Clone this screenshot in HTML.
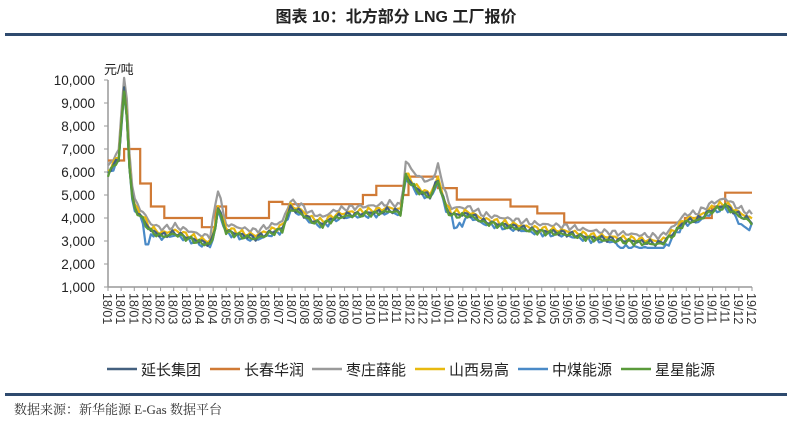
<!DOCTYPE html>
<html><head><meta charset="utf-8"><style>
body{margin:0;background:#fff;width:792px;height:424px;overflow:hidden;font-family:"Liberation Sans","Noto Sans CJK SC",sans-serif}
</style></head><body>
<svg id="s" width="792" height="424" xmlns="http://www.w3.org/2000/svg" font-family="Liberation Sans, Noto Sans CJK SC, sans-serif">
<text x="396" y="22" font-size="16" font-weight="bold" fill="#222" text-anchor="middle" font-family="Liberation Sans, Noto Sans CJK SC, sans-serif">图表 10：北方部分 LNG 工厂报价</text>
<rect x="5" y="33" width="782" height="3" fill="#2e4a6e"/>
<rect x="5" y="393" width="782" height="3" fill="#2e4a6e"/>
<text x="14" y="414" font-size="13" fill="#333" font-family="Liberation Serif, Noto Serif CJK SC, serif">数据来源：新华能源 E-Gas 数据平台</text>
<text x="104" y="74" font-size="13" fill="#222">元/吨</text>
<g id="g"></g>
</svg>
<script>
var g=document.getElementById('g'),h='';
function X(m){return 108+m*(644/24);}
function Y(v){return 287-(v-1000)*0.023;}
for(var i=1;i<=10;i++){var y=Y(i*1000);h+='<text x="95" y="'+(y+5)+'" font-size="13.5" text-anchor="end" fill="#222">'+(i==10?'10,000':i+',000')+'</text><line x1="104" x2="108" y1="'+y+'" y2="'+y+'" stroke="#999"/>';}
h+='<line x1="108" x2="108" y1="80" y2="287" stroke="#999" stroke-width="1.5"/><line x1="108" x2="752" y1="287" y2="287" stroke="#999" stroke-width="1.5"/>';
var N=50;
for(var k=0;k<N;k++){var x=108+k*(644/(N-1));var m=Math.floor(k*24/N);var yy=m<12?18:19;var mm=(m%12)+1;
h+='<line x1="'+x+'" x2="'+x+'" y1="287" y2="291" stroke="#999"/>';
h+='<text transform="translate('+(x-5)+',293) rotate(90)" font-size="12.5" fill="#333">'+yy+'/'+(mm<10?'0'+mm:mm)+'</text>';}
var base=[[0,6000],[0.3,6500],[0.45,6700],[0.55,9600],[0.65,9600],[0.85,5200],[1.0,4500],[1.3,4000],[1.6,3500],[2,3300],[2.5,3400],[3,3200],[3.5,3000],[3.8,2950],[3.95,3300],[4.1,4500],[4.4,3500],[5,3300],[5.5,3200],[6,3400],[6.5,3600],[6.8,4500],[7.2,4300],[7.5,4000],[8,3800],[8.5,4100],[9,4200],[10,4300],[10.5,4400],[10.9,4300],[11.1,5900],[11.5,5300],[12,5000],[12.3,5700],[12.6,4500],[12.8,4200],[13.5,4200],[14,3900],[15,3700],[16,3500],[17,3400],[18,3200],[19,3100],[20,3000],[20.6,2950],[21,3300],[21.5,3900],[22,4000],[22.5,4400],[23,4600],[23.5,4200],[24,3900]];
function B(m){for(var i=1;i<base.length;i++){if(m<=base[i][0]){var a=base[i-1],b=base[i];return a[1]+(b[1]-a[1])*(m-a[0])/(b[0]-a[0]);}}return 3900;}
function nz(m,s){return Math.sin(m*17.3+s)*80+Math.sin(m*41.7+s*2)*60;}
var ser=[['#4a8ac7',-150,1,[[1.4,1.6,-800],[12.8,13.2,-400],[19,21,-200],[23.5,24,-300]]],['#9a9a9a',250,2,[[0.5,0.9,300],[3.9,4.3,500],[11,12.6,300]]],['#e8b90f',50,3,[]],['#44607f',-50,4,[]],['#5a9a3a',-100,5,[]]];
var orange=[[0,6500],[0.6,7000],[1.2,5500],[1.6,4500],[2.1,4000],[3.5,3600],[4,4500],[4.4,4000],[6,4700],[6.5,4600],[9.5,5000],[10,5400],[11,5000],[11.2,5800],[12.3,5300],[13,4800],[15,4500],[16,4200],[17,3800],[21.5,4000],[22.5,4500],[23,5100],[24,5100]];
var p='';for(var i=0;i<orange.length;i++){var o=orange[i];p+=(i?'L':'M')+X(o[0]).toFixed(1)+','+(i?Y(orange[i-1][1]).toFixed(1)+'L'+X(o[0]).toFixed(1)+',':'')+Y(o[1]).toFixed(1);}
h+='<path d="'+p+'" fill="none" stroke="#d07a35" stroke-width="2.2"/>';
ser.forEach(function(s){var d='';for(var m=0;m<=24.001;m+=0.1){var v=B(m)+s[1]+nz(m,s[2]);s[3].forEach(function(e){if(m>=e[0]&&m<=e[1])v+=e[2];});if(v<2700)v=2700;d+=(m?'L':'M')+X(m).toFixed(1)+','+Y(v).toFixed(1);}h+='<path d="'+d+'" fill="none" stroke="'+s[0]+'" stroke-width="2.2" stroke-linejoin="round"/>';});
var lg=[['延长集团','#44607f',107],['长春华润','#d07a35',210],['枣庄薛能','#9a9a9a',312],['山西易高','#e8b90f',415],['中煤能源','#4a8ac7',518],['星星能源','#5a9a3a',621]];
lg.forEach(function(l){h+='<line x1="'+l[2]+'" x2="'+(l[2]+30)+'" y1="369" y2="369" stroke="'+l[1]+'" stroke-width="2.5"/><text x="'+(l[2]+34)+'" y="375" font-size="15" fill="#222">'+l[0]+'</text>';});
g.innerHTML=h;
</script>
</body></html>
